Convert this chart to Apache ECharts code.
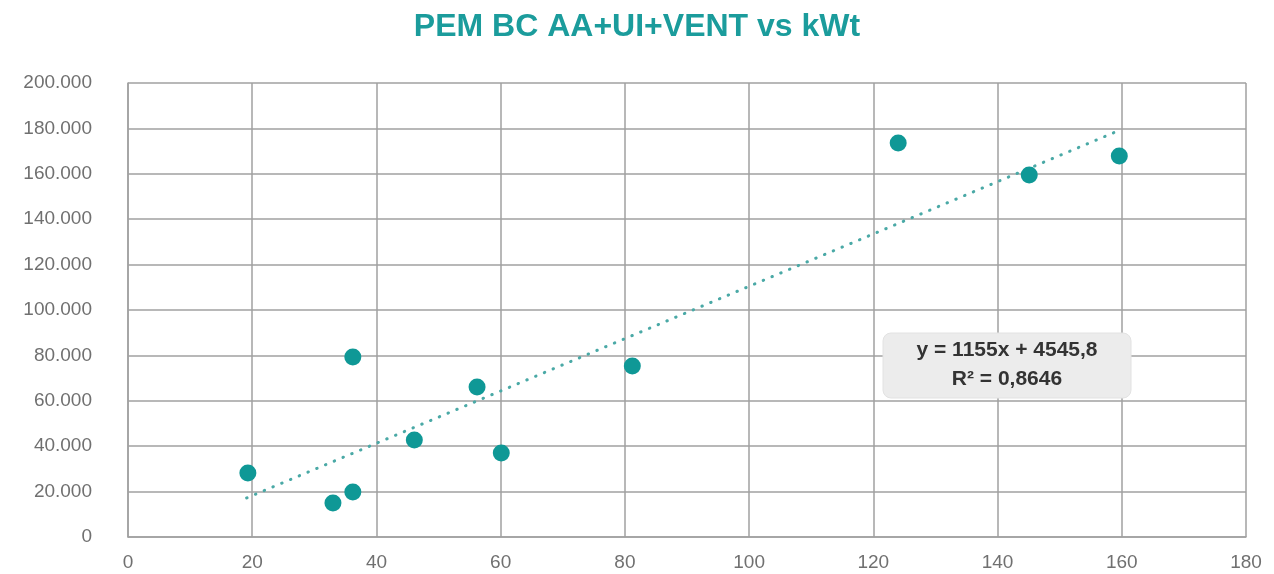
<!DOCTYPE html>
<html>
<head>
<meta charset="utf-8">
<script src="https://cdn.jsdelivr.net/npm/echarts@6/dist/echarts.min.js"></script>
<style>html,body{margin:0;padding:0;background:#fff}#c{width:1274px;height:574px}</style>
</head>
<body>
<div id="c"></div>
<script>
const xValues = [19.3, 33.0, 36.2, 36.2, 46.1, 56.2, 60.1, 81.2, 124.0, 145.1, 159.6];
const yValues = [28200, 15000, 19800, 79300, 42700, 66100, 37000, 75300, 173600, 159500, 167800];
const trendX = [19.1, 159.4];
const trendY = [17200, 178900];
const titleText = 'PEM BC AA+UI+VENT vs kWt';
const equationLines = ['y = 1155x + 4545,8', 'R² = 0,8646'];

const chart = echarts.init(document.getElementById('c'));
const gridColor = '#a0a0a0';
const teal = '#0f9896';
const font = 'Liberation Sans, Arial, sans-serif';
chart.setOption({
  animation: false,
  title: {
    text: titleText, left: 'center', top: 6,
    textStyle: {color: '#1b9c9c', fontSize: 32, fontWeight: 'bold', fontFamily: font}
  },
  grid: {left: 128, right: 28, top: 83, bottom: 37},
  xAxis: {
    type: 'value', min: 0, max: 180, interval: 20,
    axisLine: {show: true, lineStyle: {color: gridColor, width: 1.5}},
    axisTick: {show: false},
    splitLine: {show: true, lineStyle: {color: gridColor, width: 1.5}},
    axisLabel: {color: '#707070', fontSize: 19, margin: 16, fontFamily: font}
  },
  yAxis: {
    type: 'value', min: 0, max: 200000, interval: 20000,
    axisLine: {show: true, lineStyle: {color: gridColor, width: 1.5}},
    axisTick: {show: false},
    splitLine: {show: true, lineStyle: {color: gridColor, width: 1.5}},
    axisLabel: {color: '#707070', fontSize: 19, margin: 36, fontFamily: font,
      formatter: v => v === 0 ? '0' : (v/1000).toFixed(0) + '.000'}
  },
  series: [
    {
      type: 'line', data: trendX.map((x, i) => [x, trendY[i]]),
      symbol: 'none', lineStyle: {color: '#4aa9a6', width: 3, type: [0.5, 9], cap: 'round'}, z: 2
    },
    {
      type: 'scatter', data: xValues.map((x, i) => [x, yValues[i]]),
      symbolSize: 17, itemStyle: {color: teal, opacity: 1}, z: 3
    }
  ],
  graphic: [
    {type: 'rect', shape: {x: 883, y: 333, width: 248, height: 65, r: 8}, style: {fill: '#ececec', stroke: '#e2e2e2'}, z: 10},
    {type: 'text', x: 1007, y: 340, z: 11,
      style: {text: equationLines[0], fill: '#333', font: 'bold 21px ' + font, textAlign: 'center'}},
    {type: 'text', x: 1007, y: 369, z: 11,
      style: {text: equationLines[1], fill: '#333', font: 'bold 21px ' + font, textAlign: 'center'}}
  ]
});
</script>
</body>
</html>
